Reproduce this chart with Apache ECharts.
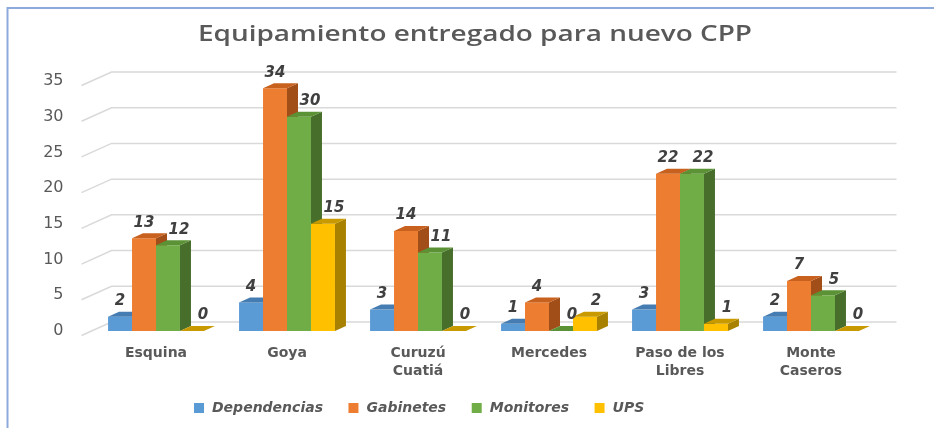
<!DOCTYPE html>
<html>
<head>
<meta charset="utf-8">
<script src="https://cdn.jsdelivr.net/npm/echarts@6/dist/echarts.min.js"></script>
<style>
  html, body { margin: 0; padding: 0; background: #fff; }
  #chart { width: 934px; height: 428px; }
</style>
</head>
<body>
<div id="chart"></div>
<script>
// Equipment delivered per location
const categories = ['Esquina', 'Goya', 'Curuzú\nCuatiá', 'Mercedes', 'Paso de los\nLibres', 'Monte\nCaseros'];
const dependencias = [2, 4, 3, 1, 3, 2];
const gabinetes = [13, 34, 14, 4, 22, 7];
const monitores = [12, 30, 11, 0, 22, 5];
const ups = [0, 15, 0, 2, 1, 0];
const yTicks = [0, 5, 10, 15, 20, 25, 30, 35];

const seriesNames = ['Dependencias', 'Gabinetes', 'Monitores', 'UPS'];
const seriesValues = [dependencias, gabinetes, monitores, ups];
// front, top, side shades of each column
const palette = [
  { front: '#5B9BD5', top: '#457DB3', side: '#3E6F9E' },
  { front: '#ED7D31', top: '#C8601E', side: '#A24E18' },
  { front: '#70AD47', top: '#5B9236', side: '#476E2B' },
  { front: '#FFC000', top: '#C89A00', side: '#A88100' }
];
const labelShift = [0, 0, 11, 11];

const DX = 11, DY = 5;           // column depth
const BACK_DX = 21, BACK_DY = 9;  // back wall offset

function columnRenderer(si) {
  return function (params, api) {
    const ci = api.value(0);
    const v = api.value(1);
    const top = api.coord([ci, v]);
    const base = api.coord([ci, 0]);
    const bw = api.size([1, 0])[0] * 0.183;
    const x0 = top[0] - 2 * bw + si * bw;
    const x1 = x0 + bw;
    const yt = top[1], yb = base[1];
    const c = palette[si];
    const children = [];
    if (yb - yt > 0.5) {
      children.push({
        type: 'rect', shape: { x: x0, y: yt, width: bw, height: yb - yt },
        style: { fill: c.front }
      });
      children.push({
        type: 'polygon',
        shape: { points: [[x1, yt], [x1 + DX, yt - DY], [x1 + DX, yb - DY], [x1, yb]] },
        style: { fill: c.side }
      });
    }
    children.push({
      type: 'polygon',
      shape: { points: [[x0, yt], [x0 + DX, yt - DY], [x1 + DX, yt - DY], [x1, yt]] },
      style: { fill: c.top }
    });
    children.push({
      type: 'text', z2: 100,
      style: {
        x: x0 + bw / 2 + labelShift[si], y: yt - 15.5,
        text: String(v), align: 'center', verticalAlign: 'middle',
        fill: '#404040', font: 'italic bold 15px "DejaVu Sans"'
      }
    });
    return { type: 'group', children: children };
  };
}

function gridRenderer(params, api) {
  const rect = params.coordSys;
  const y = api.coord([0, api.value(0)])[1];
  const bx = rect.x + BACK_DX, by = y - BACK_DY;
  return {
    type: 'polyline',
    shape: { points: [[rect.x - 9, y + 4.5], [bx, by], [rect.x + rect.width + 20, by]] },
    style: { stroke: '#D9D9D9', lineWidth: 1.5, fill: null }
  };
}

const series = [{
  name: 'grid',
  type: 'custom',
  silent: true,
  z: 1,
  data: yTicks.map(v => [v]),
  encode: { y: 0 },
  renderItem: gridRenderer
}];
seriesNames.forEach((name, si) => {
  series.push({
    name: name,
    type: 'custom',
    z: 2,
    itemStyle: { color: palette[si].front },
    data: seriesValues[si].map((v, i) => [i, v]),
    encode: { x: 0, y: 1 },
    renderItem: columnRenderer(si)
  });
});

const chart = echarts.init(document.getElementById('chart'));
chart.setOption({
  animation: false,
  backgroundColor: '#fff',
  graphic: [
    {
      type: 'rect', z: -1,
      shape: { x: 7.5, y: 8, width: 1000, height: 500 },
      style: { fill: null, stroke: '#8EA9DB', lineWidth: 2 }
    },
    {
      type: 'text',
      x: 475, y: 35, scaleX: 1.33,
      style: {
        text: 'Equipamiento entregado para nuevo CPP',
        align: 'center', verticalAlign: 'middle',
        fill: '#595959', font: '600 21px "Open Sans"'
      }
    }
  ],
  legend: {
    data: seriesNames,
    left: 189, top: 396,
    itemWidth: 10, itemHeight: 10, itemGap: 25.5,
    icon: 'rect',
    textStyle: {
      color: '#595959', fontSize: 14, fontWeight: 'bold', fontStyle: 'italic', fontFamily: 'DejaVu Sans',
      padding: [0, 0, 0, 3]
    }
  },
  grid: { left: 90.5, right: 57.5, top: 81, bottom: 97, containLabel: false },
  xAxis: {
    type: 'category',
    data: categories,
    axisLine: { show: false },
    axisTick: { show: false },
    axisLabel: {
      interval: 0, margin: 13, lineHeight: 18,
      color: '#595959', fontSize: 14, fontWeight: 'bold', fontFamily: 'DejaVu Sans'
    }
  },
  yAxis: {
    type: 'value',
    min: 0, max: 35, interval: 5,
    axisLine: { show: false },
    axisTick: { show: false },
    splitLine: { show: false },
    axisLabel: {
      margin: 27, color: '#595959', fontSize: 16, fontFamily: 'DejaVu Sans',
      padding: [8, 0, 0, 0]
    }
  },
  series: series
});
</script>
</body>
</html>
